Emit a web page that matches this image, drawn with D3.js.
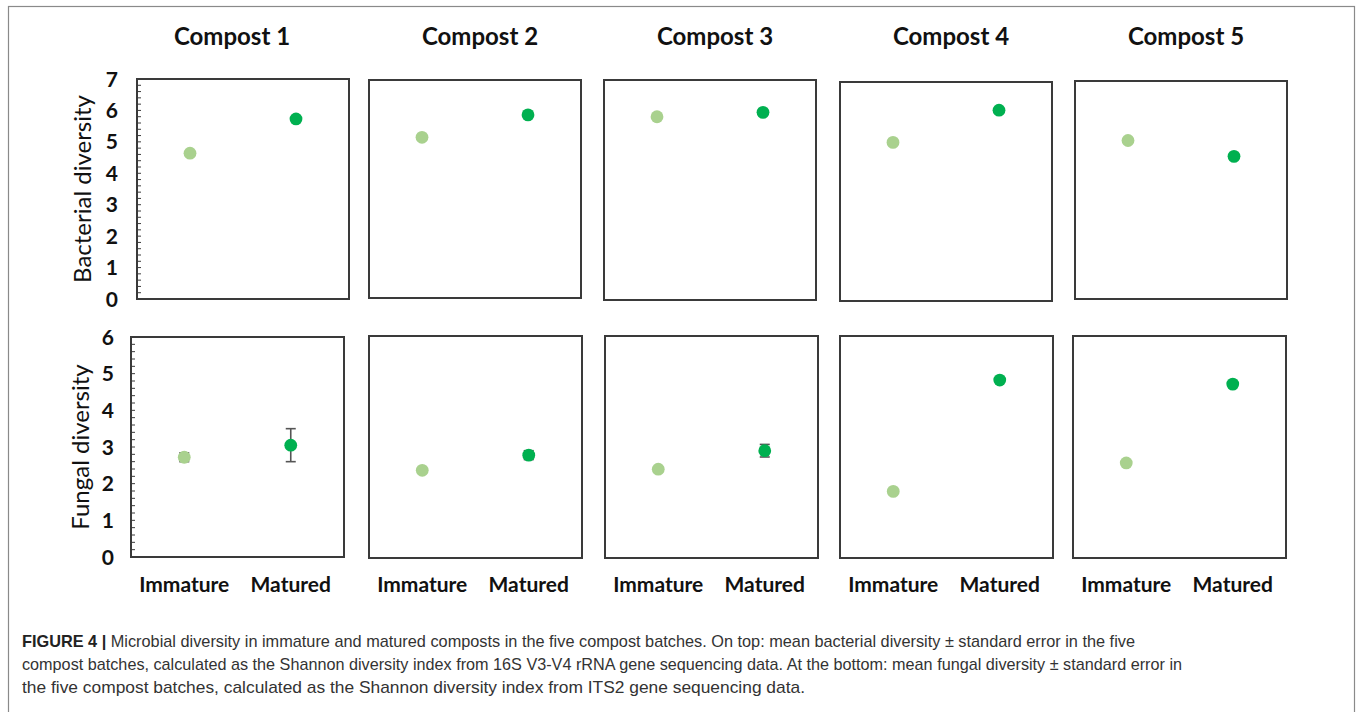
<!DOCTYPE html>
<html>
<head>
<meta charset="utf-8">
<script src="https://cdn.jsdelivr.net/npm/d3@7"></script>
<style>
  html, body { margin: 0; padding: 0; background: #fff; }
  svg { display: block; }
</style>
</head>
<body>
<svg id="chart" width="1357" height="712"></svg>
<script>
// ---------------- DATA ----------------
const composts = ["Compost 1", "Compost 2", "Compost 3", "Compost 4", "Compost 5"];
const stages = ["Immature", "Matured"];

const bacterialImmature = [4.64, 5.16, 5.83, 5.07, 5.09];
const bacterialMatured  = [5.73, 5.88, 5.97, 6.10, 4.58];
const bacterialImmatureSE = [0.03, 0.03, 0.03, 0.03, 0.03];
const bacterialMaturedSE  = [0.04, 0.04, 0.05, 0.04, 0.03];

const fungalImmature = [2.72, 2.37, 2.40, 1.80, 2.57];
const fungalMatured  = [3.05, 2.78, 2.90, 4.81, 4.70];
const fungalImmatureSE = [0.12, 0.03, 0.06, 0.02, 0.03];
const fungalMaturedSE  = [0.45, 0.12, 0.17, 0.03, 0.02];

const bacterialTicks = [0, 1, 2, 3, 4, 5, 6, 7];
const fungalTicks = [0, 1, 2, 3, 4, 5, 6];

const rowLabels = ["Bacterial diversity", "Fungal diversity"];
const captionBold = "FIGURE 4 |";
const captionLines = [
  " Microbial diversity in immature and matured composts in the five compost batches. On top: mean bacterial diversity \u00B1 standard error in the five",
  "compost batches, calculated as the Shannon diversity index from 16S V3-V4 rRNA gene sequencing data. At the bottom: mean fungal diversity \u00B1 standard error in",
  "the five compost batches, calculated as the Shannon diversity index from ITS2 gene sequencing data."
];

const colors = { Immature: "#a9d18e", Matured: "#00b050" };

// ---------------- LAYOUT ----------------
const svg = d3.select("#chart");
const font = "Lato, 'Open Sans', sans-serif";

// outer frame
svg.append("rect").attr("x", 8.5).attr("y", 6.5).attr("width", 1346).attr("height", 720)
  .attr("fill", "none").attr("stroke", "#8a8a8a").attr("stroke-width", 1.2);

const rows = [
  { key: "bact", imm: bacterialImmature, mat: bacterialMatured, immSE: bacterialImmatureSE, matSE: bacterialMaturedSE,
    ticks: bacterialTicks, max: 7, lefts: [137, 369, 604, 840, 1075], tops: [79, 80, 80, 82, 81], bottoms: [299, 298, 300, 301, 299], w: 212,
    label: rowLabels[0], labelX: 91, tickRight: 118 },
  { key: "fung", imm: fungalImmature, mat: fungalMatured, immSE: fungalImmatureSE, matSE: fungalMaturedSE,
    ticks: fungalTicks, max: 6, lefts: [131, 369, 605, 840, 1073], tops: [337, 336, 336, 336, 336], bottoms: [557, 558, 558, 558, 558], w: 213,
    label: rowLabels[1], labelX: 89, tickRight: 114 }
];

rows.forEach((row, ri) => {
  composts.forEach((c, ci) => {
    const x0 = row.lefts[ci], y0 = row.tops[ci], y1 = row.bottoms[ci];
    const g = svg.append("g");
    const xs = d3.scalePoint().domain(stages).range([x0, x0 + row.w]).padding(0.5);
    const ys = d3.scaleLinear().domain([0, row.max]).range([y1, y0]);

    // frame
    g.append("rect").attr("x", x0).attr("y", y0).attr("width", row.w).attr("height", y1 - y0)
      .attr("fill", "none").attr("stroke", "#3a3a3a").attr("stroke-width", 2);

    if (ci === 0) {
      // minor ticks (inward)
      const minor = d3.range(0, row.max + 0.001, 0.2);
      g.selectAll(".mt").data(minor).enter().append("line")
        .attr("x1", x0).attr("x2", x0 + 4)
        .attr("y1", d => ys(d)).attr("y2", d => ys(d))
        .attr("stroke", "#3a3a3a").attr("stroke-width", 1);
      // tick labels
      g.selectAll(".tl").data(row.ticks).enter().append("text")
        .attr("x", row.tickRight).attr("y", d => ys(d)).attr("dy", "0.36em")
        .attr("text-anchor", "end")
        .attr("font-family", font).attr("font-weight", 700).attr("font-size", 21)
        .attr("fill", "#111").text(d => d);
      // y label
      const cy = (y0 + y1) / 2;
      svg.append("text")
        .attr("transform", `translate(${row.labelX},${cy}) rotate(-90)`)
        .attr("text-anchor", "middle")
        .attr("font-family", font).attr("font-size", 24).attr("fill", "#111")
        .text(row.label);
    }

    const pts = [
      { s: "Immature", v: row.imm[ci], e: row.immSE[ci] },
      { s: "Matured", v: row.mat[ci], e: row.matSE[ci] }
    ];
    // error bars
    pts.forEach(p => {
      const x = xs(p.s);
      const eb = g.append("g").attr("stroke", "#555").attr("stroke-width", 1.6);
      eb.append("line").attr("x1", x).attr("x2", x).attr("y1", ys(p.v - p.e)).attr("y2", ys(p.v + p.e));
      eb.append("line").attr("x1", x - 5).attr("x2", x + 5).attr("y1", ys(p.v - p.e)).attr("y2", ys(p.v - p.e));
      eb.append("line").attr("x1", x - 5).attr("x2", x + 5).attr("y1", ys(p.v + p.e)).attr("y2", ys(p.v + p.e));
    });
    g.selectAll(".dot").data(pts).enter().append("circle")
      .attr("cx", d => xs(d.s)).attr("cy", d => ys(d.v)).attr("r", 6.4)
      .attr("fill", d => colors[d.s]);

    // titles on top row
    if (ri === 0) {
      svg.append("text").attr("x", x0 + row.w / 2 + (ci === 0 ? -11 : 5)).attr("y", 45)
        .attr("text-anchor", "middle").attr("font-family", font).attr("font-weight", 700)
        .attr("font-size", 24).attr("fill", "#111").text(c);
    }
    // x labels on bottom row
    if (ri === 1) {
      g.selectAll(".xl").data(stages).enter().append("text")
        .attr("x", d => xs(d)).attr("y", 592)
        .attr("text-anchor", "middle").attr("font-family", font).attr("font-weight", 700)
        .attr("font-size", 21).attr("fill", "#111").text(d => d);
    }
  });
});

// ---------------- CAPTION ----------------
const capFont = "'Liberation Sans', Arial, sans-serif";
const capY = [647, 670, 693];
const capEnds = [1135, 1182, 805];
captionLines.forEach((line, i) => {
  const t = svg.append("text").attr("x", 22).attr("y", capY[i])
    .attr("font-family", capFont).attr("font-size", 17).attr("fill", "#333")
    .attr("textLength", capEnds[i] - 22).attr("lengthAdjust", "spacingAndGlyphs");
  if (i === 0) {
    t.append("tspan").attr("font-weight", 700).attr("fill", "#222").text(captionBold);
  }
  t.append("tspan").text(line);
});
</script>
</body>
</html>
